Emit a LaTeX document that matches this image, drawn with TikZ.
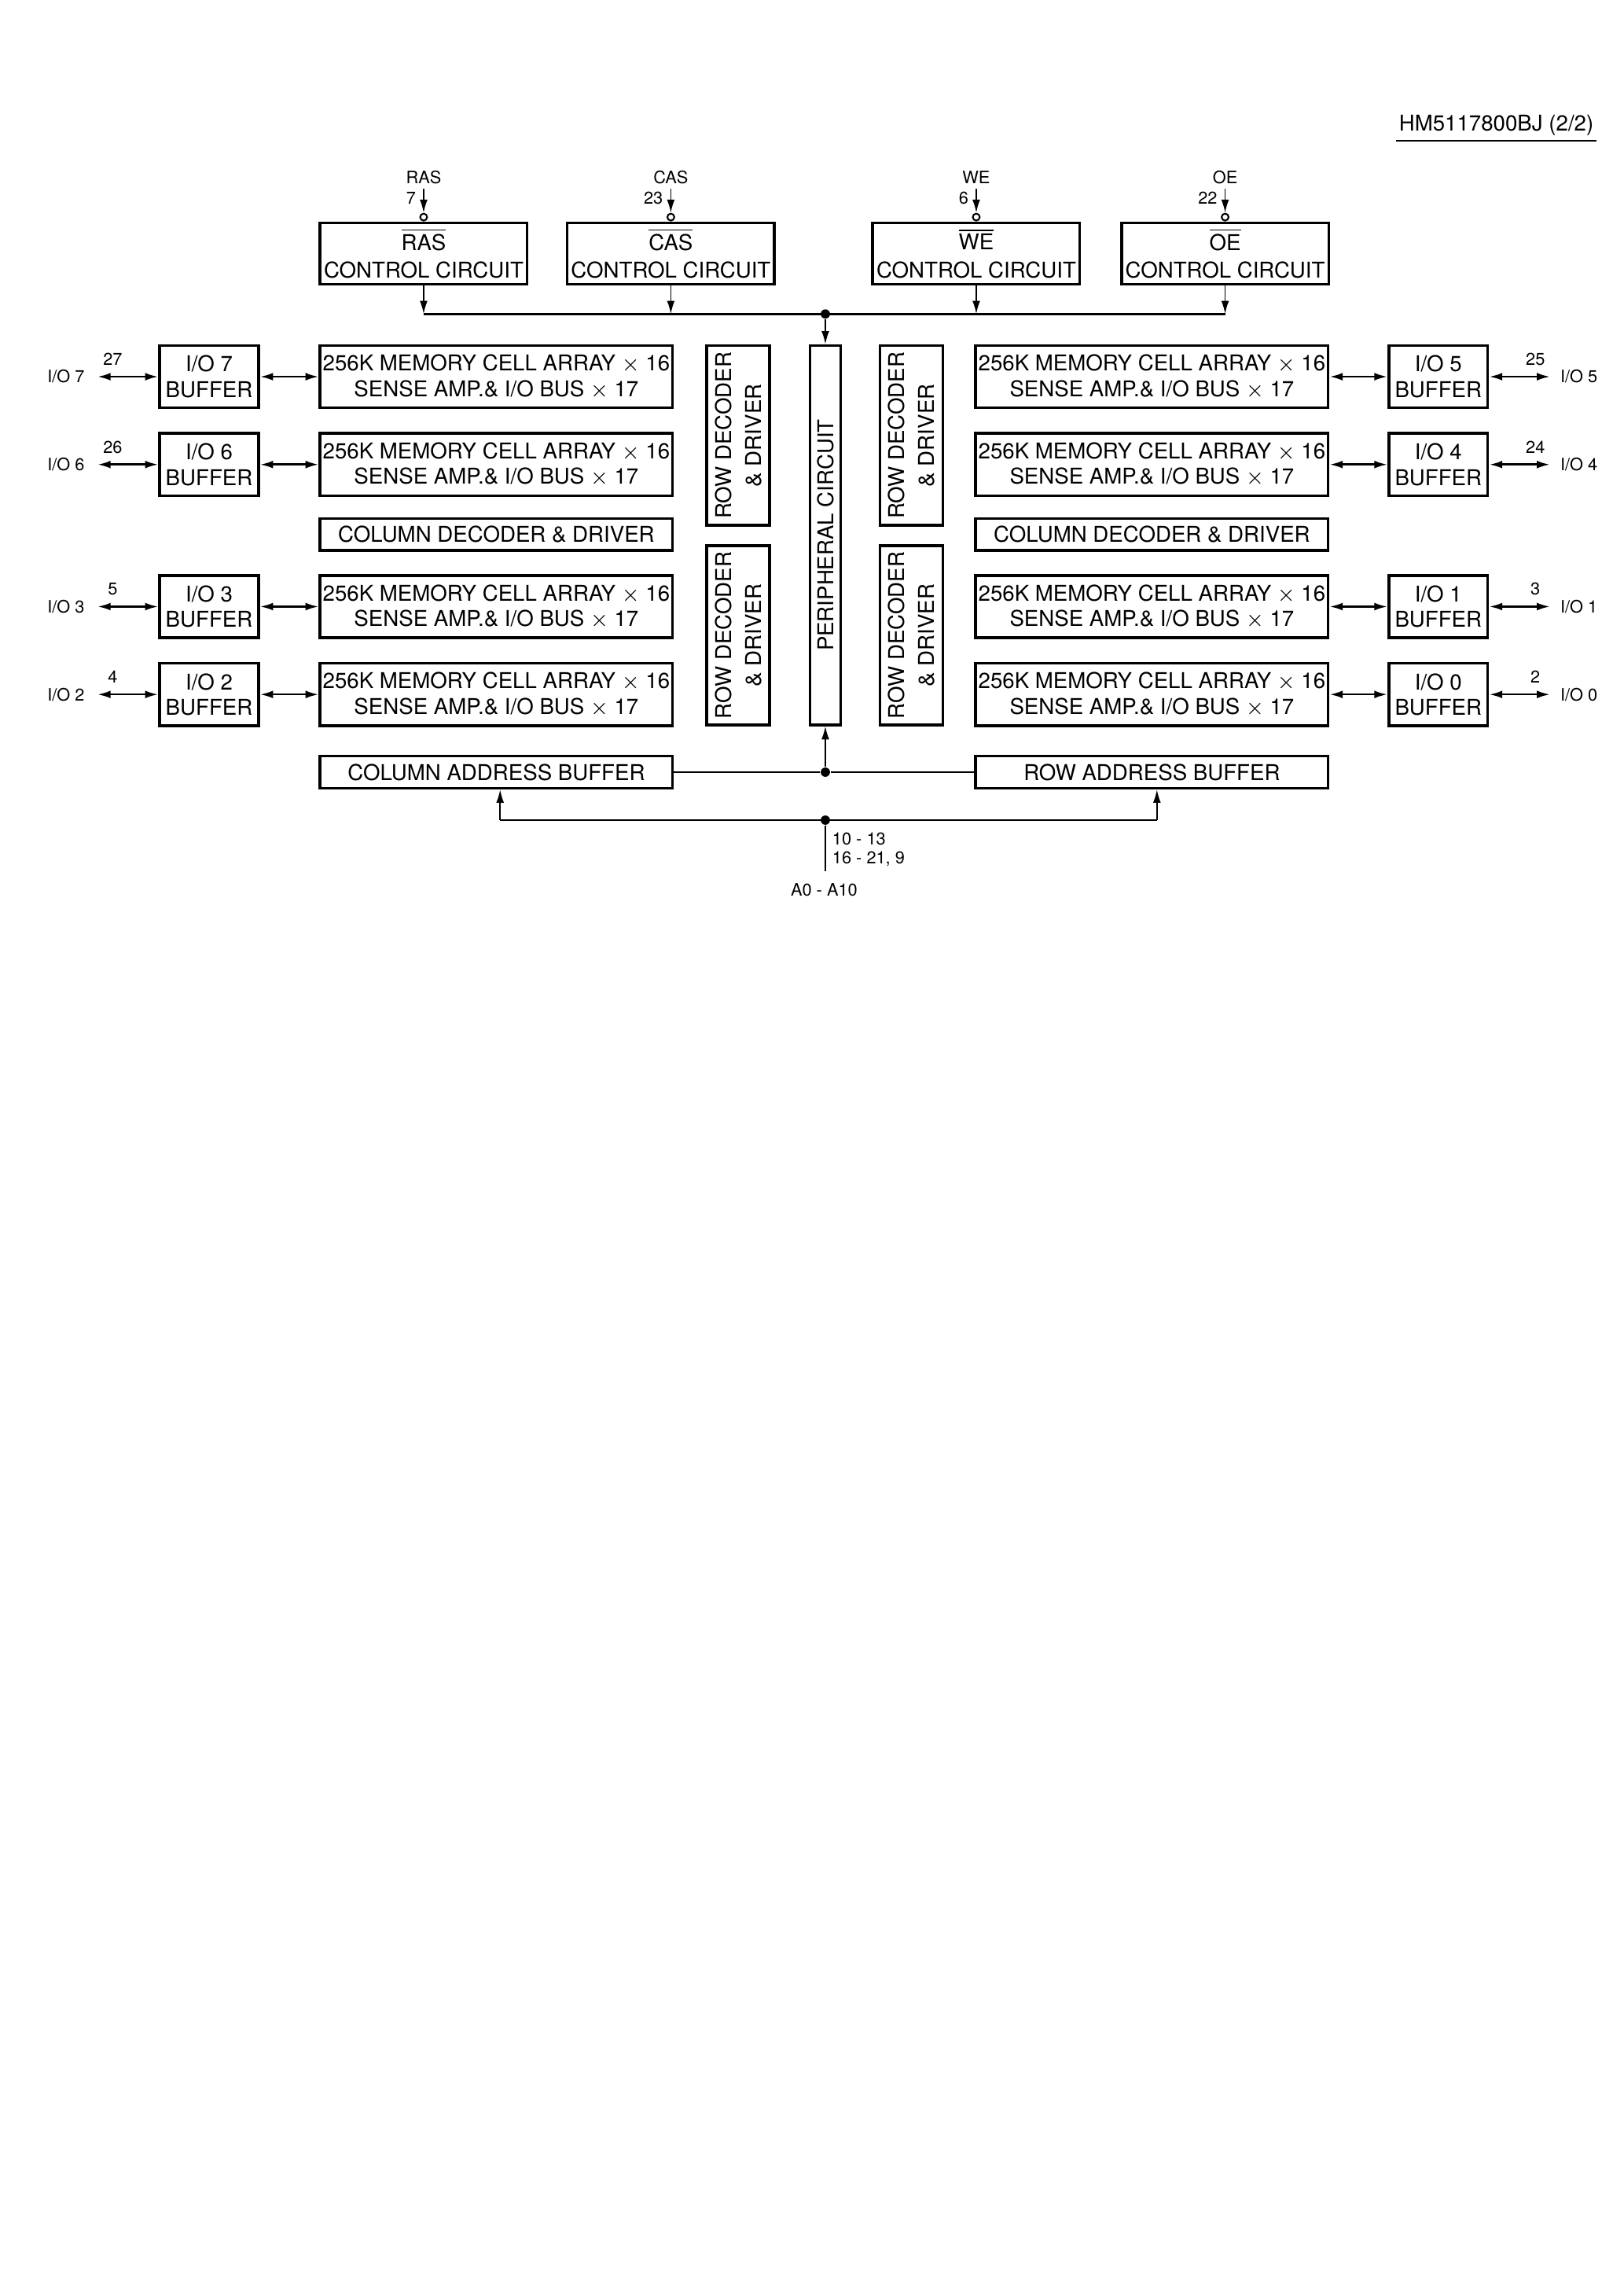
\documentclass[tikz,border=0pt]{standalone}
\usepackage{fontspec}
\setmainfont{TeX Gyre Heros}
\usetikzlibrary{arrows.meta,positioning}

\newcommand{\ovl}[1]{$\overline{\mbox{#1}}$}

\tikzset{
blk/.style={
  draw,
  line width=1pt,
  inner sep=0pt,
  align=center,
  font=\fontsize{8}{10.3}\selectfont
  },
ctrlbox/.style={blk, minimum width=26.8mm, minimum height=7.95mm},
membox/.style={blk, minimum width=45.6mm, minimum height=8.05mm,
  font=\fontsize{8}{9.4}\selectfont},
bufbox/.style={membox, minimum width=12.8mm},
decbox/.style={blk, minimum width=45.6mm, minimum height=4.15mm},
rowdec/.style={blk, rotate=90, minimum width=23.2mm, minimum height=8.14mm,
  font=\fontsize{8}{11}\selectfont},
pinlbl/.style={inner sep=0pt, font=\fontsize{6.3}{7}\selectfont},
bus/.style={line width=0.75pt},
wire/.style={line width=0.5pt},
junction/.style={circle, fill, inner sep=0pt, minimum size=1.2mm},
bubble/.style={circle, draw, line width=0.6pt, fill=white, inner sep=0pt,
  minimum size=0.9mm}
}

\begin{document}
\begin{tikzpicture}[x=1mm, y=1mm, >={Latex[length=1.7mm,width=1mm]}]
\useasboundingbox (0,0) rectangle (210,-296.9);

\node[anchor=base east, inner sep=0pt, font=\fontsize{8}{10}\selectfont]
  (hdr) at (206.2,-16.95) {HM5117800BJ (2/2)};
\draw[line width=0.5pt] ([xshift=-0.3mm,yshift=-1.25mm]hdr.base west)
  -- ([xshift=0.3mm,yshift=-1.25mm]hdr.base east);

% control inputs
\foreach \nm/\s/\n/\x in {ras/RAS/7/54.80, cas/CAS/23/86.77,
    we/WE/6/126.28, oe/OE/22/158.47}{
  \node[ctrlbox] (\nm) at (\x,-32.78) {\ovl{\s}\\CONTROL CIRCUIT};
  \node[bubble, above=0pt of \nm] (\nm-b) {};
  \coordinate (\nm-p) at (\x,-24.4);
  \node[pinlbl, above=0.55mm of \nm-p] (\nm-n) {\s};
  \node[pinlbl, anchor=east] (\nm-num) at (\x-0.95,-25.6) {\n};
  \coordinate (\nm-j) at (\x,-40.6);
  \draw[wire,->] (\nm-p) -- (\nm-b);
  \draw[wire,->] (\nm) -- (\nm-j);
}
\draw[bus] (ras-j) -- (oe-j);
\node[junction] (cj) at (106.76,-40.6) {};

% memory rows
\foreach \y/\ln/\lp/\rn/\rp [count=\i] in {-48.71/7/27/5/25, -60.07/6/26/4/24,
    -78.44/3/5/1/3, -89.80/2/4/0/2}{
  \node[membox] (meml\i) at (64.2,\y)
    {256K MEMORY CELL ARRAY $\times$ 16\\SENSE AMP.\& I/O BUS $\times$ 17};
  \node[membox] (memr\i) at (149.0,\y)
    {256K MEMORY CELL ARRAY $\times$ 16\\SENSE AMP.\& I/O BUS $\times$ 17};
  \node[bufbox] (bufl\i) at (27.05,\y) {I/O \ln\\BUFFER};
  \node[bufbox] (bufr\i) at (186.05,\y) {I/O \rn\\BUFFER};
  \coordinate (iol\i) at (12.61,\y);
  \coordinate (ior\i) at (200.5,\y);
  \node[pinlbl, left=1.6mm of iol\i] (iol\i-t) {I/O \ln};
  \node[pinlbl, right=1.27mm of ior\i] (ior\i-t) {I/O \rn};
  \node[pinlbl] (iol\i-n) at (14.58,\y+2.26) {\lp};
  \node[pinlbl] (ior\i-n) at (198.6,\y+2.26) {\rp};
  \draw[bus,<->] (iol\i) -- (bufl\i);
  \draw[bus,<->] (bufl\i) -- (meml\i);
  \draw[bus,<->] (memr\i) -- (bufr\i);
  \draw[bus,<->] (bufr\i) -- (ior\i);
}

\node[decbox] (cdl) at (64.2,-69.12) {COLUMN DECODER \& DRIVER};
\node[decbox] (cdr) at (149.0,-69.12) {COLUMN DECODER \& DRIVER};

\node[rowdec] (rdtl) at (95.48,-56.31) {ROW DECODER\\\& DRIVER};
\node[rowdec] (rdbl) at (95.48,-82.15) {ROW DECODER\\\& DRIVER};
\node[rowdec] (rdtr) at (117.91,-56.31) {ROW DECODER\\\& DRIVER};
\node[rowdec] (rdbr) at (117.91,-82.15) {ROW DECODER\\\& DRIVER};

\node[blk, rotate=90, minimum width=49.04mm, minimum height=4.01mm]
  (peri) at (106.76,-69.21) {PERIPHERAL CIRCUIT};
\draw[wire,->] (cj) -- (peri);

% address path
\node[decbox] (cab) at (64.2,-99.85) {COLUMN ADDRESS BUFFER};
\node[decbox] (rab) at (149.0,-99.85) {ROW ADDRESS BUFFER};
\node[junction] (aj) at (106.76,-99.85) {};
\draw[wire] (cab) -- (aj) -- (rab);
\draw[wire,->] (aj) -- (peri);

\node[junction] (abj) at (106.76,-106.05) {};
\coordinate (abl) at (64.69,-106.05);
\coordinate (abr) at (149.65,-106.05);
\draw[bus] (abl) -- (abr);
\draw[wire,->] (abl) -- (abl |- cab.south);
\draw[wire,->] (abr) -- (abr |- rab.south);
\coordinate (abin) at (106.76,-112.67);
\draw[wire] (abj) -- (abin);
\node[pinlbl, anchor=west, align=left] (abpins) at (107.6,-109.88)
  {10 - 13\\16 - 21, 9};
\node[pinlbl] (abname) at (106.6,-115.09) {A0 - A10};
\end{tikzpicture}
\end{document}
